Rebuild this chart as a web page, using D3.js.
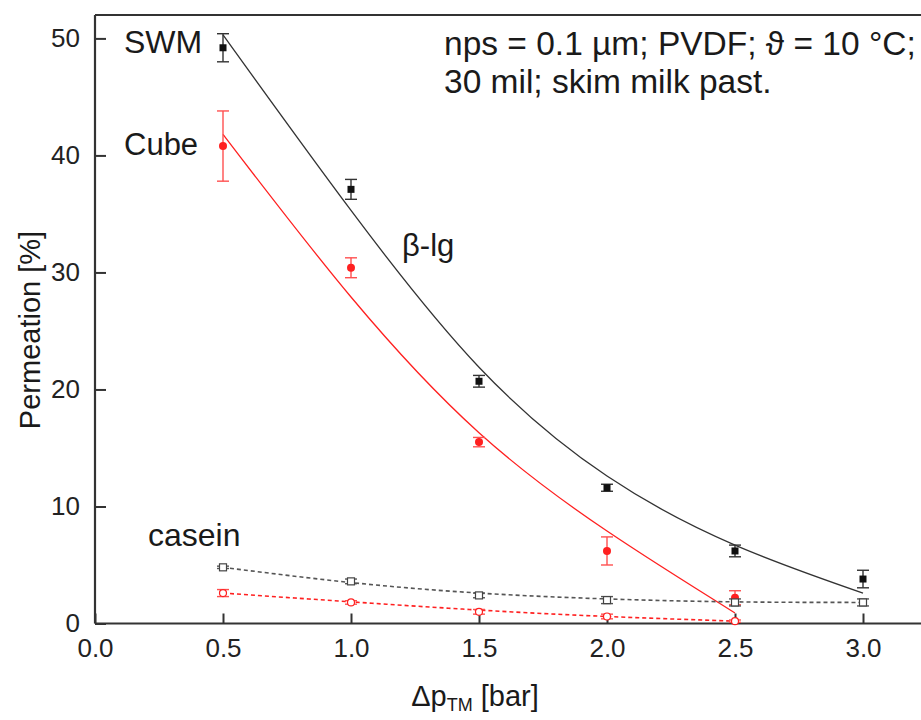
<!DOCTYPE html>
<html><head><meta charset="utf-8">
<script src="https://cdn.jsdelivr.net/npm/d3@7"></script>
<style>body{margin:0;background:#fff}svg{display:block;font-family:"Liberation Sans",Arial,sans-serif}</style>
</head><body><svg id="c" width="921" height="720"></svg>
<script>
// ---- data ----
const pressures = [0.5, 1.0, 1.5, 2.0, 2.5, 3.0];
const swmBlg     = [49.2, 37.1, 20.7, 11.6, 6.2, 3.8];
const swmBlgErr  = [1.2, 0.85, 0.5, 0.3, 0.5, 0.75];
const cubePress  = [0.5, 1.0, 1.5, 2.0, 2.5];
const cubeBlg    = [40.8, 30.4, 15.5, 6.2, 2.2];
const cubeBlgErr = [3.0, 0.85, 0.4, 1.2, 0.6];
const swmCasein    = [4.8, 3.6, 2.4, 2.0, 1.8, 1.8];
const swmCaseinErr = [0.1, 0.2, 0.2, 0.3, 0.3, 0.3];
const cubeCasein    = [2.6, 1.8, 1.0, 0.6, 0.2];
const cubeCaseinErr = [0.3, 0.15, 0.2, 0.2, 0.1];
// fitted curves
const fitXSwm   = [0.5, 1.0, 1.5, 2.0, 2.5, 3.0];
const fitSwmBlg = [50.3, 35.3, 21.9, 12.6, 6.7, 2.6];
const fitXCube  = [0.5, 1.0, 1.5, 2.0, 2.5];
const fitCubeBlg = [41.8, 27.9, 16.3, 7.9, 0.9];
const fitSwmCasein = [4.8, 3.5, 2.6, 2.1, 1.85, 1.8];
const fitCubeCasein = [2.6, 1.85, 1.15, 0.6, 0.2];
const xTicks = [0, 0.5, 1.0, 1.5, 2.0, 2.5, 3.0];
const yTicks = [0, 10, 20, 30, 40, 50];

// ---- layout ----
const svg = d3.select("#c");
const x = d3.scaleLinear().domain([0, 3.25]).range([95, 927]);
const y = d3.scaleLinear().domain([0, 52]).range([623.5, 15]);
const axisCol = "#333";
const red = "#ff2020";
const font = '"Liberation Sans",Arial,sans-serif';

// frame
svg.append("line").attr("x1", x(0)).attr("x2", 921).attr("y1", y(52)).attr("y2", y(52)).attr("stroke", axisCol).attr("stroke-width", 2);

const ya = svg.append("g").attr("transform", `translate(${x(0)},0)`)
  .call(d3.axisLeft(y).tickValues(yTicks).tickFormat(d3.format("d")).tickSize(-11).tickPadding(15));
const xa = svg.append("g").attr("transform", `translate(0,${y(0)})`)
  .call(d3.axisBottom(x).tickValues(xTicks).tickFormat(d3.format(".1f")).tickSize(-10).tickPadding(15));
[ya, xa].forEach(g => {
  g.select(".domain").attr("stroke", axisCol).attr("stroke-width", 2.2);
  g.selectAll(".tick line").attr("stroke", axisCol).attr("stroke-width", 2);
  g.selectAll(".tick text").attr("fill", "#222").style("font-size", "26px").style("font-family", font);
});
xa.select(".domain").attr("d", `M${x(0)},0H921`);
ya.select(".domain").attr("d", `M0,${y(0)}V${y(52)}`);

// fitted curves
const line = d3.line().x(d => x(d[0])).y(d => y(d[1])).curve(d3.curveNatural);
function fit(xs, ys, col, dash, w) {
  svg.append("path").attr("d", line(xs.map((v, i) => [v, ys[i]])))
    .attr("fill", "none").attr("stroke", col).attr("stroke-width", w).attr("stroke-dasharray", dash);
}
fit(fitXSwm, fitSwmBlg, "#333", null, 1.3);
fit(fitXCube, fitCubeBlg, red, null, 1.3);
fit(fitXSwm, fitSwmCasein, "#555", "4,3", 1.6);
fit(fitXCube, fitCubeCasein, red, "4,3", 1.6);

// error bars
function errs(xs, ys, es, col) {
  const g = svg.append("g").attr("stroke", col).attr("stroke-width", 1.4);
  xs.forEach((v, i) => {
    const cx = x(v), y1 = y(ys[i] + es[i]), y2 = y(ys[i] - es[i]);
    g.append("line").attr("x1", cx).attr("x2", cx).attr("y1", y1).attr("y2", y2);
    g.append("line").attr("x1", cx - 6).attr("x2", cx + 6).attr("y1", y1).attr("y2", y1);
    g.append("line").attr("x1", cx - 6).attr("x2", cx + 6).attr("y1", y2).attr("y2", y2);
  });
}
errs(pressures, swmBlg, swmBlgErr, "#333");
errs(cubePress, cubeBlg, cubeBlgErr, "#ff5050");
errs(pressures, swmCasein, swmCaseinErr, "#555");
errs(cubePress, cubeCasein, cubeCaseinErr, "#ff5050");

// markers
svg.append("g").selectAll("rect").data(pressures).join("rect")
  .attr("x", d => x(d) - 3.5).attr("y", (d, i) => y(swmBlg[i]) - 3.5).attr("width", 7).attr("height", 7).attr("fill", "#111");
svg.append("g").selectAll("circle").data(cubePress).join("circle")
  .attr("cx", d => x(d)).attr("cy", (d, i) => y(cubeBlg[i])).attr("r", 4).attr("fill", red);
svg.append("g").selectAll("rect").data(pressures).join("rect")
  .attr("x", d => x(d) - 3.5).attr("y", (d, i) => y(swmCasein[i]) - 3.5).attr("width", 7).attr("height", 7)
  .attr("fill", "#fff").attr("stroke", "#444").attr("stroke-width", 1.2);
svg.append("g").selectAll("circle").data(cubePress).join("circle")
  .attr("cx", d => x(d)).attr("cy", (d, i) => y(cubeCasein[i])).attr("r", 3.5)
  .attr("fill", "#fff").attr("stroke", red).attr("stroke-width", 1.2);

// labels
function txt(s, px, py, size) {
  return svg.append("text").attr("x", px).attr("y", py).attr("fill", "#1a1a1a").style("font-size", size + "px").text(s);
}
txt("SWM", 124, 53, 32);
txt("Cube", 124, 155, 31);
txt("β-lg", 402, 256, 31);
txt("casein", 148, 546, 32);
txt("nps = 0.1 µm; PVDF; ϑ = 10 °C;", 444, 55, 33.5);
txt("30 mil; skim milk past.", 444, 93, 33.5);

svg.append("text").attr("transform", "translate(40,330) rotate(-90)").attr("text-anchor", "middle")
  .attr("fill", "#1a1a1a").style("font-size", "29px").text("Permeation [%]");
const xt = svg.append("text").attr("x", 475).attr("y", 706).attr("text-anchor", "middle").attr("fill", "#1a1a1a").style("font-size", "29px");
xt.append("tspan").text("Δp");
xt.append("tspan").attr("dy", 5).style("font-size", "18px").text("TM");
xt.append("tspan").attr("dy", -5).text(" [bar]");
</script></body></html>
